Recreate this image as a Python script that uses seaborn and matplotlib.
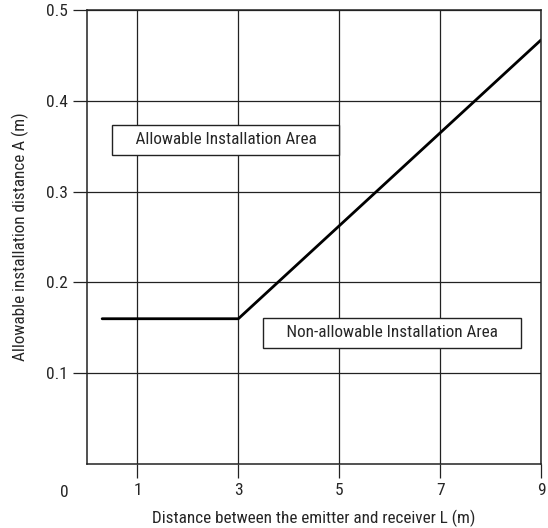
import matplotlib
matplotlib.use("Agg")
import matplotlib.pyplot as plt
import seaborn as sns
import pandas as pd

# curve of allowable installation distance
dist_L = [0.3, 3.0, 9.0]
dist_A = [0.16, 0.16, 0.467]
x_ticks = [1, 3, 5, 7, 9]
y_ticks = [0.1, 0.2, 0.3, 0.4, 0.5]

sns.set_style("ticks")
plt.rcParams['font.family'] = ['Roboto Condensed', 'Roboto', 'DejaVu Sans']

df = pd.DataFrame({'L': dist_L, 'A': dist_A})

fig = plt.figure(figsize=(5.48, 5.28), dpi=100)
ax = fig.add_axes([0.1588, 0.1212, 0.8284, 0.8598])

sns.lineplot(data=df, x='L', y='A', color='black', linewidth=2, ax=ax)

ax.set_xlim(0, 9)
ax.set_ylim(0, 0.5)
ax.set_xticks(x_ticks)
ax.set_yticks(y_ticks)
ax.set_xticklabels([str(t) for t in x_ticks])
ax.set_yticklabels([f'{t:.1f}' for t in y_ticks])
ax.grid(True, color='#222222', linewidth=0.9)
ax.set_axisbelow(True)
for s in ax.spines.values():
    s.set_visible(True)
    s.set_color('#222222')
    s.set_linewidth(1.1)
ax.tick_params(direction='out', length=10, width=0.9, color='#222222',
               labelsize=12.5, pad=4)

ax.text(-0.46, -0.031, '0', fontsize=12.5, ha='center', va='center',
        transform=ax.transData, clip_on=False)

ax.set_xlabel('Distance between the emitter and receiver L (m)', fontsize=12.3, labelpad=8)
ax.set_ylabel('Allowable installation distance A (m)', fontsize=12.3, labelpad=12)

box = dict(boxstyle='square,pad=0.44', facecolor='white', edgecolor='#222222', linewidth=1)
ax.text(2.75, 0.357, '    Allowable Installation Area    ', fontsize=12.3,
        ha='center', va='center', bbox=box)
ax.text(6.05, 0.1445, '    Non-allowable Installation Area    ', fontsize=12.3,
        ha='center', va='center', bbox=box)

fig.savefig('out.png', dpi=100)
